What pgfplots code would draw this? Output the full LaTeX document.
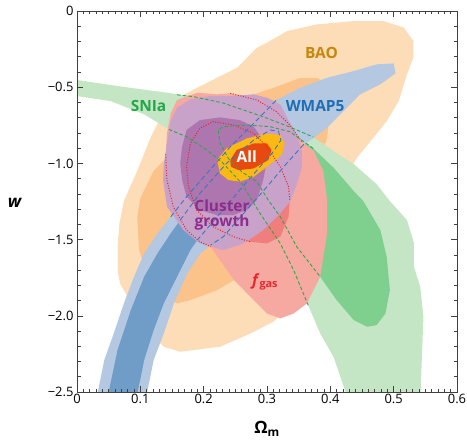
\documentclass[border=0pt]{standalone}
\usepackage{fontspec}
\setmainfont{Open Sans}
\usepackage{pgfplots}
\pgfplotsset{compat=1.18}
\definecolor{baoL}{HTML}{FDDDB7}
\definecolor{baoD}{HTML}{FBC28A}
\definecolor{snL}{HTML}{C4E6C4}
\definecolor{snD}{HTML}{7FCF8E}
\definecolor{wmL}{HTML}{B4C8E2}
\definecolor{wmD}{HTML}{6F9DC8}
\definecolor{fgL}{HTML}{F6A9A0}
\definecolor{fgD}{HTML}{EF7E7C}
\definecolor{clL}{HTML}{C8A2C9}
\definecolor{clD}{HTML}{AD76AE}
\definecolor{allL}{HTML}{FDB913}
\definecolor{allD}{HTML}{E8490F}
\definecolor{tBAO}{HTML}{C8860A}
\definecolor{tWM}{HTML}{1F6FB5}
\definecolor{tSN}{HTML}{22A84A}
\definecolor{tCL}{HTML}{8B2D8E}
\definecolor{tFG}{HTML}{E8262B}
\definecolor{lnG}{HTML}{2BA84A}
\definecolor{lnB}{HTML}{3A78C0}
\definecolor{lnR}{HTML}{E8262B}
\begin{document}
\begin{tikzpicture}
\begin{axis}[name=ax, scale only axis, width=380bp, height=381bp,
  xmin=0, xmax=0.6, ymin=-2.5, ymax=0,
  xtick={0,0.1,0.2,0.3,0.4,0.5,0.6}, xticklabels={0,0.1,0.2,0.3,0.4,0.5,0.6},
  ytick={-2.5,-2,-1.5,-1,-0.5,0}, yticklabels={−2.5,−2.0,−1.5,−1.0,−0.5,0},
  minor x tick num=9, minor y tick num=4,
  tick align=inside, major tick length=6bp, minor tick length=3.5bp,
  tick style={black!75, line width=0.6bp},
  axis line style={black!75, line width=0.8bp},
  ticklabel style={font=\fontsize{13}{15}\selectfont, text=black},
  xticklabel style={yshift=1bp},
  axis on top,
  xlabel={\textbf{Ω}\textsubscript{\textbf{m}}},
  xlabel style={at={(axis description cs:0.5,-0.110)}, anchor=base, font=\fontsize{17}{19}\selectfont},
  ylabel={\textbf{\itshape w}},
  ylabel style={at={(axis description cs:-0.163,0.496)}, anchor=center, rotate=-90, font=\fontsize{17}{19}\selectfont},
]
% BAO
\addplot[fill=baoL, draw=none] coordinates {(0.300,-0.208) (0.332,-0.131) (0.379,-0.088) (0.437,-0.066) (0.484,-0.066) (0.516,-0.109) (0.531,-0.197) (0.531,-0.306) (0.521,-0.416) (0.508,-0.591) (0.489,-0.722) (0.468,-0.832) (0.442,-0.963) (0.415,-1.153) (0.394,-1.372) (0.373,-1.635) (0.347,-1.897) (0.310,-2.039) (0.274,-2.116) (0.226,-2.203) (0.163,-2.236) (0.137,-2.203) (0.116,-2.116) (0.089,-1.941) (0.068,-1.788) (0.064,-1.700) (0.064,-1.547) (0.067,-1.394) (0.074,-1.247) (0.095,-1.050) (0.116,-0.832) (0.137,-0.656) (0.163,-0.562) (0.190,-0.503) (0.221,-0.438) (0.253,-0.372) (0.284,-0.241)} --cycle;
\addplot[fill=baoD, draw=none] coordinates {(0.098,-1.569) (0.095,-1.350) (0.100,-1.228) (0.121,-1.050) (0.163,-0.869) (0.215,-0.672) (0.268,-0.562) (0.311,-0.503) (0.352,-0.440) (0.379,-0.440) (0.395,-0.473) (0.399,-0.650) (0.395,-0.834) (0.378,-1.022) (0.352,-1.241) (0.310,-1.503) (0.248,-1.766) (0.221,-1.832) (0.179,-1.897) (0.158,-1.919) (0.131,-1.853) (0.110,-1.722)} --cycle;
% SNIa
\addplot[fill=snL, draw=none] coordinates {(-0.01,-0.450) (0.000,-0.453) (0.079,-0.501) (0.142,-0.536) (0.184,-0.562) (0.231,-0.604) (0.294,-0.694) (0.336,-0.761) (0.373,-0.827) (0.405,-0.919) (0.437,-1.004) (0.473,-1.136) (0.494,-1.247) (0.521,-1.372) (0.532,-1.523) (0.532,-1.678) (0.542,-1.810) (0.547,-2.007) (0.545,-2.225) (0.542,-2.56) (0.429,-2.56) (0.405,-2.269) (0.384,-2.116) (0.365,-1.930) (0.342,-1.700) (0.321,-1.525) (0.289,-1.328) (0.260,-1.131) (0.231,-1.000) (0.205,-0.912) (0.173,-0.825) (0.145,-0.777) (0.106,-0.678) (0.053,-0.591) (0.000,-0.558) (-0.01,-0.556)} --cycle;
\addplot[fill=snD, draw=none] coordinates {(0.223,-0.781) (0.231,-0.759) (0.268,-0.748) (0.305,-0.759) (0.336,-0.792) (0.373,-0.902) (0.405,-1.028) (0.437,-1.182) (0.452,-1.247) (0.479,-1.438) (0.489,-1.613) (0.494,-1.832) (0.487,-1.985) (0.473,-2.061) (0.458,-2.072) (0.437,-2.028) (0.410,-1.897) (0.384,-1.744) (0.347,-1.547) (0.321,-1.350) (0.302,-1.241) (0.284,-1.120) (0.260,-1.055) (0.239,-0.967) (0.226,-0.869)} --cycle;
% WMAP5
\addplot[fill=wmL, draw=none] coordinates {(0.030,-2.56) (0.043,-2.291) (0.058,-2.116) (0.074,-1.919) (0.090,-1.744) (0.106,-1.591) (0.127,-1.459) (0.148,-1.350) (0.173,-1.219) (0.205,-1.066) (0.242,-0.891) (0.279,-0.737) (0.315,-0.584) (0.353,-0.503) (0.395,-0.438) (0.437,-0.394) (0.473,-0.350) (0.500,-0.344) (0.503,-0.409) (0.479,-0.481) (0.447,-0.547) (0.421,-0.656) (0.395,-0.766) (0.374,-0.832) (0.358,-0.875) (0.331,-1.000) (0.300,-1.153) (0.263,-1.328) (0.231,-1.481) (0.211,-1.536) (0.195,-1.591) (0.174,-1.722) (0.153,-1.919) (0.137,-2.116) (0.121,-2.291) (0.108,-2.56)} --cycle;
\addplot[fill=wmD, draw=none] coordinates {(0.047,-2.56) (0.064,-2.225) (0.085,-1.963) (0.106,-1.744) (0.127,-1.591) (0.148,-1.459) (0.163,-1.372) (0.194,-1.197) (0.236,-1.000) (0.279,-0.847) (0.305,-0.781) (0.318,-0.788) (0.322,-0.847) (0.310,-0.923) (0.289,-1.022) (0.257,-1.175) (0.226,-1.328) (0.190,-1.503) (0.179,-1.569) (0.158,-1.744) (0.137,-1.919) (0.121,-2.094) (0.106,-2.291) (0.093,-2.56)} --cycle;
% fgas
\addplot[fill=fgL, draw=none] coordinates {(0.140,-0.941) (0.142,-0.803) (0.148,-0.672) (0.158,-0.584) (0.190,-0.536) (0.221,-0.547) (0.242,-0.540) (0.284,-0.584) (0.315,-0.661) (0.336,-0.748) (0.355,-0.858) (0.374,-0.919) (0.389,-1.050) (0.395,-1.241) (0.395,-1.459) (0.384,-1.744) (0.363,-1.919) (0.342,-1.985) (0.321,-2.017) (0.300,-1.985) (0.279,-1.897) (0.248,-1.766) (0.211,-1.547) (0.194,-1.514) (0.173,-1.438) (0.152,-1.284) (0.142,-1.109)} --cycle;
\addplot[fill=fgD, draw=none] coordinates {(0.215,-0.726) (0.247,-0.748) (0.279,-0.803) (0.300,-0.891) (0.321,-1.022) (0.334,-1.153) (0.336,-1.241) (0.334,-1.350) (0.321,-1.481) (0.300,-1.525) (0.273,-1.514) (0.247,-1.481) (0.215,-1.416) (0.189,-1.306) (0.176,-1.153) (0.173,-1.022) (0.179,-0.869) (0.194,-0.770)} --cycle;
% Cluster growth
\addplot[fill=clL, draw=none] coordinates {(0.136,-1.109) (0.142,-1.284) (0.168,-1.438) (0.194,-1.525) (0.231,-1.569) (0.263,-1.525) (0.294,-1.438) (0.321,-1.328) (0.337,-1.247) (0.347,-1.138) (0.355,-1.028) (0.355,-0.919) (0.347,-0.810) (0.332,-0.700) (0.321,-0.613) (0.300,-0.569) (0.279,-0.547) (0.242,-0.558) (0.211,-0.558) (0.179,-0.580) (0.158,-0.635) (0.148,-0.722) (0.142,-0.875) (0.137,-1.007)} --cycle;
\addplot[fill=clD, draw=none] coordinates {(0.166,-0.891) (0.173,-0.781) (0.194,-0.716) (0.226,-0.698) (0.257,-0.716) (0.279,-0.759) (0.294,-0.847) (0.300,-0.978) (0.294,-1.109) (0.284,-1.241) (0.268,-1.306) (0.247,-1.339) (0.221,-1.339) (0.194,-1.306) (0.173,-1.219) (0.166,-1.109) (0.163,-1.000)} --cycle;
% All
\addplot[fill=allL, draw=none] coordinates {(0.221,-0.978) (0.236,-0.902) (0.268,-0.836) (0.300,-0.803) (0.321,-0.814) (0.328,-0.869) (0.323,-0.945) (0.300,-1.022) (0.279,-1.088) (0.257,-1.120) (0.239,-1.109) (0.226,-1.066)} --cycle;
\addplot[fill=allD, draw=none] coordinates {(0.242,-0.978) (0.252,-0.912) (0.279,-0.869) (0.300,-0.869) (0.307,-0.912) (0.302,-0.978) (0.279,-1.033) (0.255,-1.044) (0.243,-1.022)} --cycle;
% hidden contour outlines
\addplot[lnR, line width=1bp, dash pattern=on 1bp off 1.6bp] coordinates {(0.242,-0.540) (0.284,-0.584) (0.315,-0.661) (0.336,-0.748) (0.355,-0.858)};
\addplot[lnR, line width=1bp, dash pattern=on 1bp off 1.6bp] coordinates {(0.140,-0.941) (0.142,-1.109) (0.152,-1.284) (0.173,-1.438) (0.194,-1.514) (0.211,-1.547)};
\addplot[lnR, line width=1bp, dash pattern=on 1bp off 1.6bp] coordinates {(0.273,-1.514) (0.247,-1.481) (0.215,-1.416) (0.189,-1.306) (0.176,-1.153) (0.173,-1.022) (0.179,-0.869) (0.194,-0.770) (0.215,-0.726) (0.247,-0.748) (0.279,-0.803) (0.300,-0.891) (0.321,-1.022) (0.334,-1.153) (0.336,-1.241)};
\addplot[lnB, line width=0.9bp, dash pattern=on 5bp off 3bp] coordinates {(0.148,-1.350) (0.173,-1.219) (0.205,-1.066) (0.242,-0.891) (0.279,-0.737) (0.315,-0.584)};
\addplot[lnB, line width=0.9bp, dash pattern=on 5bp off 3bp] coordinates {(0.358,-0.875) (0.331,-1.000) (0.300,-1.153) (0.263,-1.328) (0.231,-1.481) (0.211,-1.536)};
\addplot[lnB, line width=0.9bp, dash pattern=on 5bp off 3bp] coordinates {(0.163,-1.372) (0.194,-1.197) (0.236,-1.000) (0.279,-0.847) (0.305,-0.781) (0.318,-0.788) (0.322,-0.847) (0.310,-0.923) (0.289,-1.022) (0.257,-1.175) (0.226,-1.328) (0.190,-1.503)};
\addplot[lnG, line width=0.9bp, dash pattern=on 3.5bp off 2.2bp] coordinates {(0.158,-0.550) (0.184,-0.562) (0.231,-0.604) (0.294,-0.694) (0.336,-0.761) (0.373,-0.827)};
\addplot[lnG, line width=0.9bp, dash pattern=on 3.5bp off 2.2bp] coordinates {(0.145,-0.777) (0.173,-0.825) (0.205,-0.912) (0.231,-1.000) (0.260,-1.131) (0.289,-1.328) (0.321,-1.525) (0.342,-1.700) (0.365,-1.930)};
\addplot[lnG, line width=0.9bp, dash pattern=on 3.5bp off 2.2bp] coordinates {(0.373,-0.902) (0.336,-0.792) (0.305,-0.759) (0.268,-0.748) (0.231,-0.759) (0.223,-0.781) (0.226,-0.869) (0.239,-0.967) (0.260,-1.055) (0.284,-1.120) (0.302,-1.241) (0.321,-1.350) (0.347,-1.547) (0.384,-1.744)};
% labels
\node[text=tBAO, font=\fontsize{15.5}{17}\selectfont\bfseries] at (axis cs:0.386,-0.278) {BAO};
\node[text=tWM, font=\fontsize{15.5}{17}\selectfont\bfseries] at (axis cs:0.376,-0.624) {WMAP5};
\node[text=tSN, font=\fontsize{15.5}{17}\selectfont\bfseries] at (axis cs:0.113,-0.624) {SNIa};
\node[text=white, font=\fontsize{15.5}{17}\selectfont\bfseries] at (axis cs:0.268,-0.956) {All};
\node[text=tCL, font=\fontsize{15.5}{15}\selectfont\bfseries, align=center] at (axis cs:0.229,-1.339) {Cluster\\growth};
\node[text=tFG, font=\fontsize{15.5}{17}\selectfont\bfseries] at (axis cs:0.297,-1.777) {\textit{f}\textsubscript{gas}};
\end{axis}
\pgfresetboundingbox
\path[use as bounding box] ([xshift=-77bp,yshift=-49bp]ax.south west) rectangle ([xshift=10bp,yshift=11bp]ax.north east);
\end{tikzpicture}
\end{document}
